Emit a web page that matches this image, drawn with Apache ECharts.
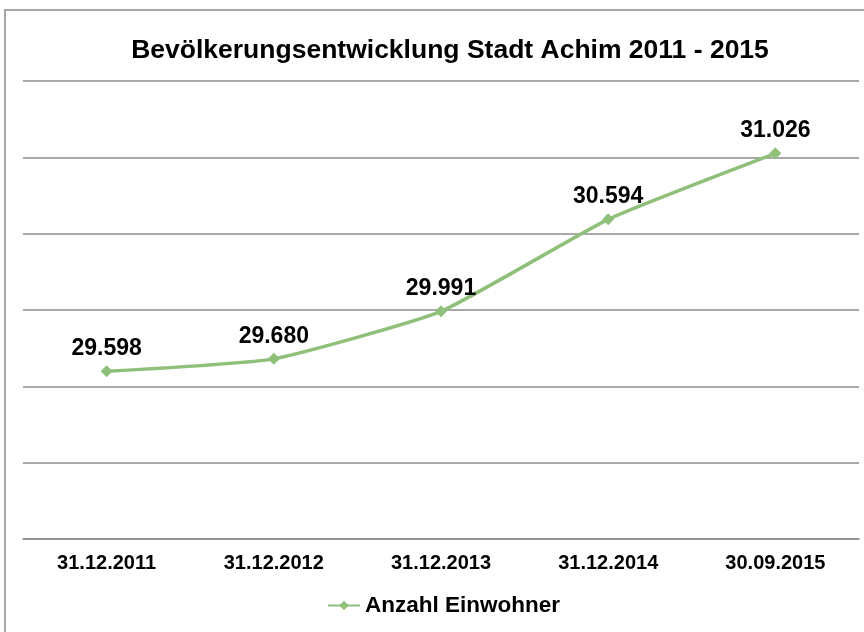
<!DOCTYPE html>
<html>
<head>
<meta charset="utf-8">
<script src="https://cdn.jsdelivr.net/npm/echarts@6/dist/echarts.min.js"></script>
<style>
  html, body { margin: 0; padding: 0; background: #fff; }
  #main { width: 864px; height: 632px; }
</style>
</head>
<body>
<div id="main"></div>
<script>
// Stichtage und Einwohnerzahlen
var stichtage = ['31.12.2011', '31.12.2012', '31.12.2013', '31.12.2014', '30.09.2015'];
var einwohner = [29598, 29680, 29991, 30594, 31026];
var seriesName = 'Anzahl Einwohner';

var chart = echarts.init(document.getElementById('main'));

function fmt(v) {
  // deutsches Tausendertrennzeichen
  return String(v).replace(/\B(?=(\d{3})+(?!\d))/g, '.');
}

var option = {
  backgroundColor: '#fff',
  animation: false,
  textStyle: { fontFamily: 'Liberation Sans, Arial, sans-serif' },
  title: {
    text: 'Bevölkerungsentwicklung Stadt Achim 2011 - 2015',
    left: 445,
    textAlign: 'center',
    top: 32,
    textStyle: { fontSize: 26.5, fontWeight: 'bold', color: '#000' }
  },
  graphic: [{
    type: 'rect',
    shape: { x: 5, y: 10, width: 900, height: 700 },
    style: { fill: 'none', stroke: '#a6a6a6', lineWidth: 2 },
    silent: true
  }],
  legend: {
    data: [seriesName],
    left: 322,
    top: 589,
    itemWidth: 32,
    itemHeight: 12,
    itemGap: 1,
    textStyle: { fontSize: 22.5, fontWeight: 'bold', color: '#000' }
  },
  grid: { left: 23, right: 5, top: 81, bottom: 93 },
  xAxis: {
    type: 'category',
    data: stichtage,
    boundaryGap: true,
    axisLine: { lineStyle: { color: '#8c8c8c', width: 1.5 } },
    axisTick: { show: false },
    axisLabel: { fontSize: 20, fontWeight: 'bold', color: '#000', margin: 14 }
  },
  yAxis: {
    type: 'value',
    min: 28500,
    max: 31500,
    interval: 500,
    axisLine: { show: false },
    axisTick: { show: false },
    axisLabel: { show: false },
    splitLine: { lineStyle: { color: '#8c8c8c', width: 1.5 } }
  },
  series: [{
    name: seriesName,
    type: 'line',
    data: einwohner,
    smooth: 0.15,
    symbol: 'diamond',
    symbolSize: 12,
    itemStyle: { color: '#8fc07a' },
    lineStyle: { color: '#8fc07a', width: 3.5 },
    label: {
      show: true,
      position: 'top',
      distance: 5,
      fontSize: 23,
      fontWeight: 'bold',
      color: '#000',
      formatter: function (p) { return fmt(p.value); }
    }
  }]
};

chart.setOption(option);
</script>
</body>
</html>
